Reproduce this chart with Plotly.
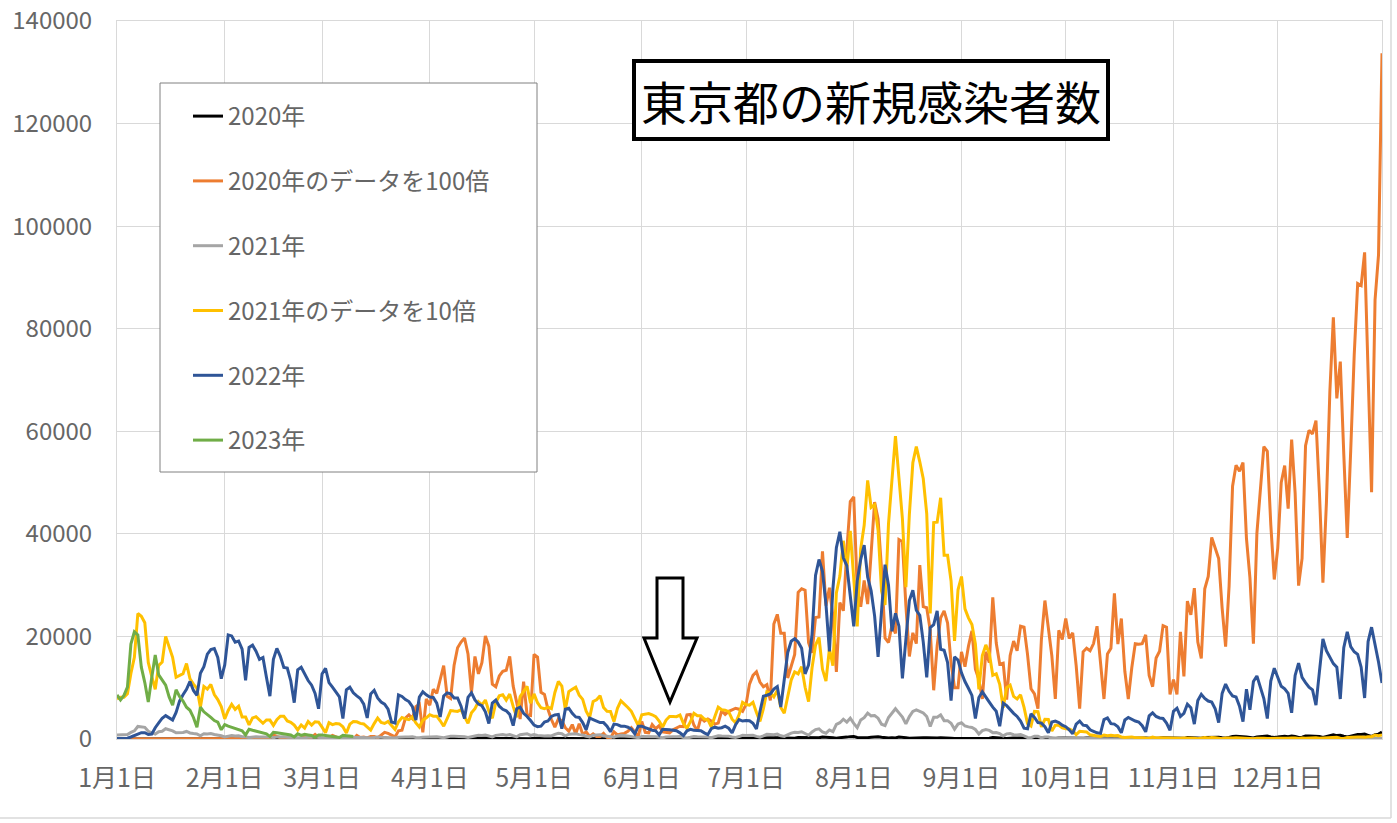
import pandas as pd
import numpy as np
import plotly.graph_objects as go

# ---------------- data (daily new cases in Tokyo) ----------------
tokyo_2020 = [
    0,0,0,0,0,0,0,0,0,0, 0,0,0,0,0,0,0,0,0,0, 0,0,0,1,1,0,0,0,0,1,0,
    0,0,0,0,0,0,0,0,0,0, 0,0,1,2,8,5,3,0,3,3, 2,0,0,6,1,3,9,3,
    1,1,3,7,4,1,2,1,5,0, 7,3,4,2,5,5,2,8,13,11, 7,4,16,17,41,47,40,63,68,13,78,
    66,97,89,116,143,83,79,144,178,189, 197,166,91,161,127,149,201,181,107,102, 123,132,134,161,103,72,39,112,47,46,
    165,160,91,87,58,38,23,39,36,22, 15,28,10,30,9,14,5,10,5,5, 11,3,2,14,8,10,11,15,22,14,5,
    34,13,12,28,20,26,14,13,12,18, 22,25,24,47,48,27,16,41,35,39, 35,29,31,55,48,54,57,60,58,54,
    67,107,124,131,111,102,106,75,224,243, 206,206,119,143,165,286,293,290,188,168, 237,238,366,260,295,239,131,266,250,367,463,
    472,292,258,309,263,360,462,429,331,197, 188,222,206,389,385,260,161,207,186,339, 258,256,212,95,182,236,250,226,148,100,100,
    170,141,181,211,136,116,78,170,149,276, 187,146,148,77,163,191,172,220,218,165, 98,88,59,195,270,218,162,78,212,194,
    235,196,207,143,59,170,177,172,186,220, 146,78,166,177,284,185,235,132,78,139, 186,185,186,203,124,102,158,171,221,218,87,
    116,87,209,122,269,242,294,189,157,293, 317,393,374,352,255,180,298,493,534,522, 539,391,314,186,401,481,570,561,418,311,
    372,500,533,449,584,480,299,352,572,602, 595,621,480,305,460,678,822,664,736,556, 392,563,748,888,884,949,708,481,856,944,1337,
]

tokyo_2021 = [
    783,814,816,884,1278,1591,2447,2392,2268,1494, 1219,970,1433,1502,2001,1809,1592,1204,1240,1274, 1471,1175,1070,986,618,1026,973,1064,868,769,633,
    393,556,676,577,639,429,429,276,412,434, 370,307,371,369,266,378,445,445,353,327, 272,178,275,213,340,270,337,329,
    232,121,316,279,301,293,237,116,290,340, 335,304,293,239,175,300,409,323,303,342, 256,187,337,420,394,376,430,313,234,364,414,
    475,446,446,355,249,399,555,545,537,570, 421,306,510,591,729,667,759,543,405,711, 843,861,759,876,635,425,828,925,1027,698,
    879,708,609,590,621,591,907,1121,1032,573, 925,969,1010,854,772,542,419,732,766,843, 614,539,535,340,597,743,684,614,539,402,260,
    471,487,497,472,436,351,235,369,440,440, 435,467,304,209,337,501,452,453,388,376, 236,435,619,570,562,534,386,317,476,714,
    673,660,716,518,342,593,920,896,822,950, 614,502,830,1149,1308,1271,1410,1008,727,1387, 1832,1979,1359,1128,1763,1429,2848,3177,3865,3300,4058,
    3058,2195,3709,4166,5042,4515,4566,4066,2884,2612, 4200,4989,5908,5094,4295,2962,4377,5386,5700,5405, 5074,4392,2447,4220,4228,4704,3581,3581,3081,1915,2909,
    3168,2539,2362,2234,1853,968,1629,1834,1675,1242, 1273,1067,611,1004,1052,831,782,862,616,302, 253,537,531,235,383,382,154,267,267,218,
    200,196,161,87,149,149,138,82,66,60, 49,77,62,72,62,67,40,29,36,41, 26,32,26,19,17,36,21,24,22,17,9,
    9,18,14,21,21,22,16,7,19,28, 20,30,23,14,5,18,25,20,23,18, 19,11,13,6,15,18,14,9,14,8,
    16,13,21,17,19,21,8,21,14,20, 26,22,15,20,21,23,30,32,17,12, 30,36,36,37,37,33,44,46,76,64,78,
]

tokyo_2022 = [
    78,84,103,151,390,641,922,1224,1223,871, 962,2198,3124,4051,4561,4172,3709,5185,7377,8638, 9699,11227,9468,8503,12813,14086,16538,17433,17631,15895,11751,
    14445,20300,20100,18891,19113,17526,11442,17864,18287,17113, 15525,15895,12022,8355,15526,17678,16112,13963,13817,11324, 7084,13500,14000,12800,11400,10500,8900,5900,
    12700,13800,11000,10100,9200,8200,4000,9600,10100,9000, 8400,7900,6800,4100,8800,9500,8000,7200,6800,5800, 3300,3100,8600,8300,7700,7300,6300,3700,8200,9200,8600,
    8200,8100,7000,4300,8400,9000,8800,8000,8000,6400, 4000,8100,9000,7600,6800,6500,5300,3000,7000,7600, 6400,5800,5500,4800,2600,5900,6200,5000,4400,3600,
    2700,2400,2500,3300,3500,4400,4700,4800,2000,5800, 6000,5000,4300,4200,3200,1800,4100,3800,3500,3200, 3200,2500,1400,2900,2800,2500,2500,2300,1900,1000,2500,
    2500,2200,1900,1700,1600,800,1900,1900,1800,1700, 1600,1200,650,1600,1900,1700,1600,1600,1200,850, 2000,2300,2100,2200,2500,2100,1200,2800,3800,3500,
    3603,3572,3087,1941,5302,8341,8529,8777,9716,10221, 6231,11511,16878,19059,19575,18919,17700,12693,14444,20401, 31878,34995,32698,26293,17094,29303,37319,40406,35340,33779,27698,
    21958,30842,35000,37800,31600,28900,24000,16000,25400,34000, 30000,21000,24500,22000,11800,20000,27000,29000,25100,24100, 18900,12000,21700,22300,25000,17500,17300,14900,7500,16000,15400,
    12900,11200,9900,8500,4000,8100,9200,8100,7200,6200, 5400,2500,7000,6500,5700,5000,4400,3500,2100,2000, 4900,4200,3200,3100,2400,1200,3300,3500,3200,2700,
    2400,1800,1000,2900,3500,2700,2600,1800,1500,1200, 1100,3800,4100,3000,2900,2400,1200,3700,4200,3800, 3500,3300,2600,1400,4500,5100,4400,4100,4000,3100,1700,
    5400,6000,4400,5000,6800,6100,2900,7500,8700,7900, 7400,7200,5900,3200,8900,10700,9300,8400,8200,6400, 3400,9700,5700,11200,12300,10000,7900,4000,11300,13800,
    12000,10300,9800,8900,5100,12400,14800,12000,11000,10100, 9600,6600,13200,19500,17200,15900,14700,14000,7800,17800, 20900,18000,17000,16500,14000,8000,19000,21800,18500,15000,10900,
]

tokyo_2023 = [
    8600,7600,8500,10100,18500,20900,20300,14000,11000,7200, 12000,16400,12500,11400,10500,8200,6600,9600,8300,7400, 6200,5600,4200,2300,6200,5300,4800,4200,3600,3300,1800,
    2800,2500,2300,2000,1800,1600,800,1900,1700,1500, 1300,1200,1000,500,1300,1200,1100,1000,900,800, 400,1000,700,900,800,700,300,800,
    800,700,700,600,500,300,700,600,600,500,
]

month_ticks = ["1月1日", "2月1日", "3月1日", "4月1日", "5月1日", "6月1日",
               "7月1日", "8月1日", "9月1日", "10月1日", "11月1日", "12月1日"]
y_ticks = [0, 20000, 40000, 60000, 80000, 100000, 120000, 140000]

series_names = ["2020年", "2020年のデータを100倍", "2021年", "2021年のデータを10倍", "2022年", "2023年"]
series_colors = ["#000000", "#ED7D31", "#A5A5A5", "#FFC000", "#2F5597", "#70AD47"]

title_text = "東京都の新規感染者数"

# ---------------- figure ----------------
days = pd.date_range("2021-01-01", "2021-12-31", freq="D")
tick_dates = pd.date_range("2021-01-01", periods=12, freq="MS")

series_values = [
    np.array(tokyo_2020),
    np.array(tokyo_2020) * 100,
    np.array(tokyo_2021),
    np.array(tokyo_2021) * 10,
    np.array(tokyo_2022),
    np.array(tokyo_2023),
]

FONT = "Noto Sans CJK JP"
fig = go.Figure()
for name, vals, col in zip(series_names, series_values, series_colors):
    fig.add_trace(go.Scatter(
        x=days[:len(vals)], y=vals, mode="lines", name=name,
        legendgroup=name,
        line=dict(color=col, width=3),
        hoverinfo="x+y+name",
    ))

W, H = 1397, 823
L, R, T, B = 117, 15, 21, 84
pw, ph = W - L - R, H - T - B


def px(x):
    return (x - L) / pw


def py(y):
    return (H - B - y) / ph


shapes = []
# legend box
shapes.append(dict(type="rect", xref="paper", yref="paper",
                   x0=px(160), x1=px(537), y0=py(472), y1=py(83),
                   line=dict(color="#808080", width=1), fillcolor="white", layer="above"))
# hollow arrow
pts = [(657, 578), (683, 578), (683, 638), (697, 638), (670, 702), (644, 638), (657, 638)]
path = "M " + " L ".join(f"{px(a):.5f},{py(b):.5f}" for a, b in pts) + " Z"
shapes.append(dict(type="path", xref="paper", yref="paper", path=path,
                   line=dict(color="black", width=3), fillcolor="white", layer="above"))
# outer chart frame (right and bottom)
shapes.append(dict(type="line", xref="paper", yref="paper",
                   x0=px(1391), x1=px(1391), y0=py(818), y1=py(0),
                   line=dict(color="#D9D9D9", width=1.5)))
shapes.append(dict(type="line", xref="paper", yref="paper",
                   x0=px(0), x1=px(1391), y0=py(818), y1=py(818),
                   line=dict(color="#D9D9D9", width=1.5)))

fig.update_layout(
    width=W, height=H,
    margin=dict(l=L, r=R, t=T, b=B, pad=0, autoexpand=False),
    paper_bgcolor="white", plot_bgcolor="white",
    font=dict(family=FONT, color="#666666"),
    showlegend=True,
    legend=dict(
        x=px(188), y=py(94), xanchor="left", yanchor="top",
        bgcolor="rgba(0,0,0,0)", borderwidth=0,
        font=dict(family=FONT, size=24, color="#666666"),
        traceorder="grouped", tracegroupgap=30.6, itemwidth=30,
    ),
    xaxis=dict(
        range=[days[0], days[-1]],
        tickvals=tick_dates, ticktext=month_ticks,
        showgrid=True, gridcolor="#D9D9D9", gridwidth=1,
        showline=True, mirror=True, linecolor="#D9D9D9", linewidth=1,
        ticks="", ticklabelstandoff=17, automargin=False,
        tickfont=dict(family=FONT, size=25, color="#666666"),
        zeroline=False, fixedrange=True,
    ),
    yaxis=dict(
        range=[0, 140000],
        tickvals=y_ticks, ticktext=[str(v) for v in y_ticks],
        showgrid=True, gridcolor="#D9D9D9", gridwidth=1,
        showline=True, mirror=True, linecolor="#D9D9D9", linewidth=1,
        ticks="", ticklabelstandoff=19, automargin=False,
        tickfont=dict(family=FONT, size=24, color="#666666"),
        zeroline=False, fixedrange=True,
    ),
    shapes=shapes,
    annotations=[dict(
        text=title_text, xref="paper", yref="paper",
        x=px(871), y=py(100), xanchor="center", yanchor="middle",
        showarrow=False, font=dict(family=FONT, size=46, color="black"),
        bgcolor="white", bordercolor="black", borderwidth=4, borderpad=2,
        width=466, height=70,
    )],
)

fig.write_html(
    "out.html",
    config={"displayModeBar": False},
    post_script="document.body.style.margin='0';document.body.style.overflow='hidden';",
)
